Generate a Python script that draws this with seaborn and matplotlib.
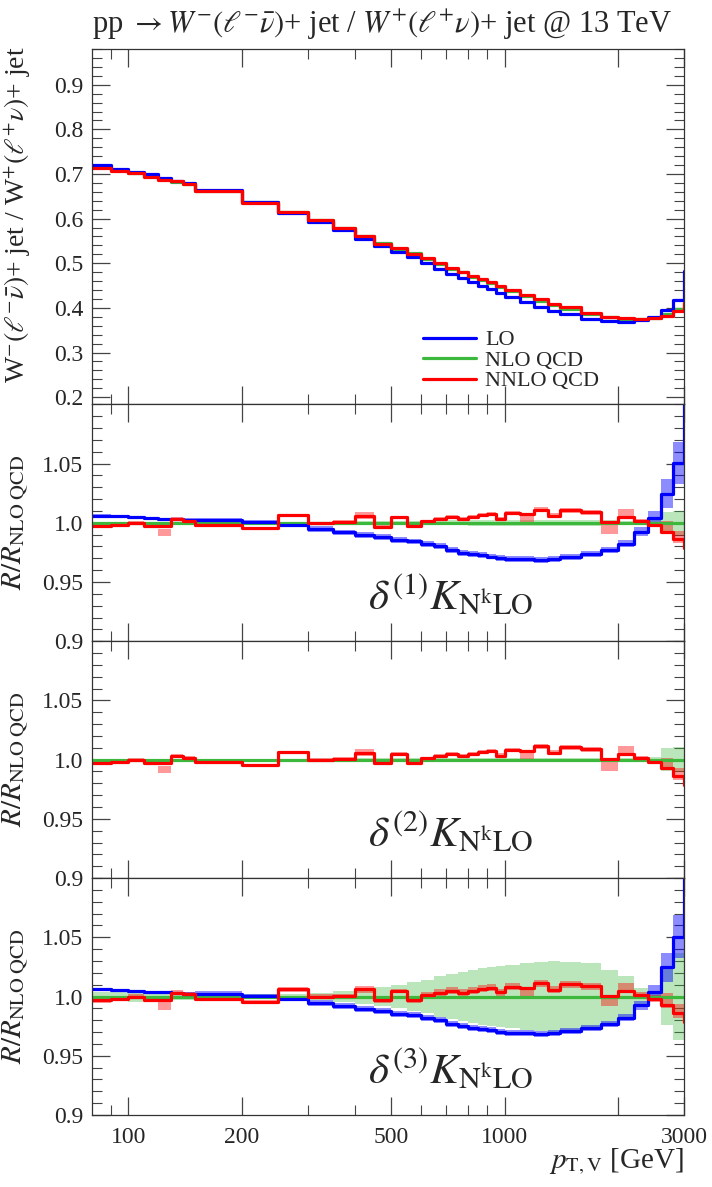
import numpy as np
import matplotlib
matplotlib.use("Agg")
import matplotlib.pyplot as plt
from matplotlib.lines import Line2D
import seaborn as sns

# bin edges in p_T,V [GeV]
edges = [80, 90, 100, 110, 120, 130, 140, 150, 200, 250, 300, 350, 400, 450, 500,
         550, 600, 650, 700, 750, 800, 850, 900, 950, 1000, 1100, 1200, 1300, 1400,
         1600, 1800, 2000, 2200, 2400, 2600, 2800, 3000, 3400]

# W-/W+ ratio, top panel
lo_top = [0.721, 0.712, 0.705, 0.699, 0.691, 0.684, 0.679, 0.664, 0.637, 0.613, 0.593,
          0.574, 0.555, 0.539, 0.526, 0.514, 0.501, 0.488, 0.477, 0.468, 0.458, 0.449,
          0.442, 0.434, 0.425, 0.413, 0.403, 0.394, 0.386, 0.376, 0.370, 0.369, 0.372,
          0.380, 0.395, 0.417, 0.482]
nlo_top = [0.717, 0.708, 0.702, 0.696, 0.689, 0.682, 0.677, 0.662, 0.637, 0.614, 0.596,
           0.579, 0.561, 0.546, 0.533, 0.522, 0.510, 0.498, 0.488, 0.480, 0.470, 0.462,
           0.455, 0.447, 0.438, 0.426, 0.416, 0.407, 0.398, 0.386, 0.379, 0.376, 0.375,
           0.378, 0.386, 0.397, 0.420]
nnlo_top = [0.714, 0.707, 0.702, 0.694, 0.687, 0.684, 0.678, 0.661, 0.636, 0.615, 0.596,
            0.579, 0.561, 0.544, 0.535, 0.520, 0.511, 0.500, 0.490, 0.481, 0.472, 0.465,
            0.458, 0.448, 0.441, 0.429, 0.421, 0.409, 0.402, 0.389, 0.379, 0.378, 0.375,
            0.377, 0.383, 0.392, 0.410]

# ratios to NLO QCD
lo_ratio = [1.0060, 1.0054, 1.0048, 1.0040, 1.0034, 1.0030, 1.0025, 1.0025, 1.0003, 0.9983,
            0.9946, 0.9918, 0.9898, 0.9880, 0.9855, 0.9842, 0.9822, 0.9800, 0.9771, 0.9748,
            0.9737, 0.9726, 0.9715, 0.9703, 0.9695, 0.9692, 0.9686, 0.9692, 0.9709, 0.9737,
            0.9771, 0.9822, 0.9926, 1.0040, 1.0246, 1.0506, 1.1500]
nlo_ratio = [1.0] * 37
nnlo_ratio = [0.9969, 0.9978, 1.0000, 0.9972, 0.9970, 1.0031, 1.0018, 0.9981, 0.9953, 1.0062,
              0.9998, 1.0005, 1.0060, 0.9968, 1.0046, 0.9969, 1.0011, 1.0031, 1.0048, 1.0031,
              1.0048, 1.0065, 1.0076, 1.0034, 1.0082, 1.0076, 1.0112, 1.0059, 1.0104, 1.0088,
              1.0003, 1.0048, 1.0011, 0.9983, 0.9926, 0.9861, 0.9785]

# band half-widths (and shifts of the NNLO band) for the three prescriptions
lo_band = [0.0010, 0.0010, 0.0010, 0.0010, 0.0010, 0.0012, 0.0015, 0.0018, 0.0020, 0.0022,
           0.0025, 0.0025, 0.0025, 0.0025, 0.0025, 0.0025, 0.0025, 0.0025, 0.0025, 0.0025,
           0.0025, 0.0025, 0.0025, 0.0025, 0.0025, 0.0025, 0.0025, 0.0025, 0.0025, 0.0025,
           0.0025, 0.0030, 0.0040, 0.0060, 0.0120, 0.0180, 0.0300]
nlo_band_d1 = [0.0008, 0.0008, 0.0008, 0.0008, 0.0008, 0.0008, 0.0008, 0.0008, 0.0008, 0.0010,
               0.0010, 0.0012, 0.0012, 0.0015, 0.0015, 0.0018, 0.0020, 0.0020, 0.0022, 0.0022,
               0.0025, 0.0025, 0.0025, 0.0025, 0.0025, 0.0025, 0.0025, 0.0025, 0.0025, 0.0025,
               0.0020, 0.0015, 0.0010, 0.0020, 0.0090, 0.0100, 0.0100]
nlo_band_d2 = [0.0006, 0.0006, 0.0006, 0.0006, 0.0006, 0.0006, 0.0006, 0.0006, 0.0006, 0.0008,
               0.0008, 0.0010, 0.0010, 0.0012, 0.0012, 0.0014, 0.0015, 0.0015, 0.0016, 0.0016,
               0.0018, 0.0018, 0.0018, 0.0018, 0.0018, 0.0018, 0.0018, 0.0018, 0.0018, 0.0018,
               0.0015, 0.0012, 0.0010, 0.0025, 0.0100, 0.0105, 0.0105]
nlo_band_d3 = [0.0040, 0.0040, 0.0050, 0.0050, 0.0040, 0.0030, 0.0030, 0.0020, 0.0020, 0.0020,
               0.0030, 0.0050, 0.0060, 0.0080, 0.0095, 0.0120, 0.0140, 0.0170, 0.0190, 0.0210,
               0.0220, 0.0240, 0.0250, 0.0260, 0.0270, 0.0280, 0.0290, 0.0300, 0.0290, 0.0280,
               0.0220, 0.0170, 0.0070, 0.0040, 0.0240, 0.0370, 0.0400]
nnlo_band_d12 = [0.0012, 0.0012, 0.0012, 0.0012, 0.0030, 0.0015, 0.0015, 0.0012, 0.0012, 0.0015,
                 0.0012, 0.0015, 0.0030, 0.0015, 0.0015, 0.0015, 0.0015, 0.0015, 0.0015, 0.0015,
                 0.0018, 0.0018, 0.0018, 0.0018, 0.0020, 0.0025, 0.0020, 0.0020, 0.0020, 0.0020,
                 0.0055, 0.0035, 0.0020, 0.0020, 0.0050, 0.0050, 0.0050]
nnlo_band_d3 = [0.0020, 0.0020, 0.0020, 0.0020, 0.0030, 0.0020, 0.0020, 0.0020, 0.0020, 0.0020,
                0.0020, 0.0020, 0.0030, 0.0020, 0.0020, 0.0020, 0.0030, 0.0030, 0.0030, 0.0030,
                0.0030, 0.0030, 0.0030, 0.0030, 0.0030, 0.0030, 0.0030, 0.0030, 0.0030, 0.0030,
                0.0040, 0.0035, 0.0030, 0.0030, 0.0060, 0.0060, 0.0060]
nnlo_shift = [0.0, 0.0, 0.0, 0.0, -0.0050, 0.0, 0.0, 0.0, 0.0, 0.0,
              0.0, 0.0, 0.0, 0.0, 0.0, 0.0, 0.0, 0.0, 0.0, 0.0,
              0.0, 0.0, 0.0, 0.0, 0.0, -0.0045, 0.0, 0.0, 0.0, 0.0,
              -0.0045, 0.0030, 0.0, 0.0, 0.0040, 0.0020, 0.0]

top_yticks = [0.2, 0.3, 0.4, 0.5, 0.6, 0.7, 0.8, 0.9]
ratio_yticks = [0.9, 0.95, 1.0, 1.05]
ratio_ylabels = ["0.9", "0.95", "1.0", "1.05"]
x_major = [100, 200, 500, 1000, 2000, 3000]
x_major_labels = ["100", "200", "500", "1000", "", "3000"]
x_minor = [90, 300, 400, 600, 700, 800, 900]

c_lo, c_nlo, c_nnlo = "#0000ff", "#3cb83c", "#ff0000"

sns.set_style("ticks")
plt.rcParams["font.family"] = ["Liberation Serif", "DejaVu Serif"]
plt.rcParams["mathtext.fontset"] = "stix"


def step(ax, vals, color):
    y = list(vals) + [vals[-1]]
    sns.lineplot(x=edges, y=y, drawstyle="steps-post", color=color, lw=2.3,
                 estimator=None, sort=False, ax=ax)


def band(ax, centre, half, color, alpha, shift=None):
    c = np.array(centre, dtype=float)
    if shift is not None:
        c = c + np.array(shift)
    h = np.array(half)
    lo = np.append(c - h, (c - h)[-1])
    hi = np.append(c + h, (c + h)[-1])
    ax.fill_between(edges, lo, hi, step="post", color=color, alpha=alpha, lw=0)


fig = plt.figure(figsize=(7.12, 11.87), dpi=100)
gs = fig.add_gridspec(4, 1, height_ratios=[1.5, 1, 1, 1], hspace=0,
                      left=0.129, right=0.961, top=0.9587, bottom=0.0607)
axes = [fig.add_subplot(gs[i]) for i in range(4)]

# top panel
ax = axes[0]
step(ax, nlo_top, c_nlo)
step(ax, lo_top, c_lo)
step(ax, nnlo_top, c_nnlo)
ax.set_ylim(0.184, 0.98)
ax.set_yticks(top_yticks)
ax.set_yticklabels([f"{v:.1f}" for v in top_yticks])
ax.set_ylabel(r"W$^{-}(\ell^{-}\bar{\nu})$+ jet / W$^{+}(\ell^{+}\nu)$+ jet", fontsize=20)
handles = [Line2D([], [], color=c, lw=2.3) for c in (c_lo, c_nlo, c_nnlo)]
ax.legend(handles, ["LO", "NLO QCD", "NNLO QCD"], loc="lower left",
          bbox_to_anchor=(0.525, -0.02), frameon=False, fontsize=16,
          handlelength=2.4, handletextpad=0.4, labelspacing=0.0)

# delta(1)
ax = axes[1]
band(ax, nlo_ratio, nlo_band_d1, c_nlo, 0.35)
band(ax, lo_ratio, lo_band, c_lo, 0.45)
band(ax, nnlo_ratio, nnlo_band_d12, c_nnlo, 0.4, nnlo_shift)
step(ax, nlo_ratio, c_nlo)
step(ax, lo_ratio, c_lo)
step(ax, nnlo_ratio, c_nnlo)

# delta(2)
ax = axes[2]
band(ax, nlo_ratio, nlo_band_d2, c_nlo, 0.35)
band(ax, nnlo_ratio, nnlo_band_d12, c_nnlo, 0.4, nnlo_shift)
step(ax, nlo_ratio, c_nlo)
step(ax, nnlo_ratio, c_nnlo)

# delta(3)
ax = axes[3]
band(ax, nlo_ratio, nlo_band_d3, c_nlo, 0.35)
band(ax, lo_ratio, lo_band, c_lo, 0.45)
band(ax, nnlo_ratio, nnlo_band_d3, c_nnlo, 0.4, nnlo_shift)
step(ax, nlo_ratio, c_nlo)
step(ax, lo_ratio, c_lo)
step(ax, nnlo_ratio, c_nnlo)

for i, ax in enumerate(axes[1:], start=1):
    ax.set_ylim(0.9, 1.1)
    ax.set_yticks(ratio_yticks)
    ax.set_yticklabels(ratio_ylabels)
    ax.set_ylabel(r"$R/R_{\mathrm{NLO\ QCD}}$", fontsize=21)
    ax.yaxis.set_label_coords(-0.103, 0.5)
    ax.text(0.605, 0.19, r"$\delta^{(%d)}K_{\mathrm{N^{k}LO}}$" % i, transform=ax.transAxes,
            ha="center", va="center", fontsize=31)

axes[0].yaxis.set_label_coords(-0.1, 0.535)

for i, ax in enumerate(axes):
    ax.set_xscale("log")
    ax.set_xlim(80, 3000)
    ax.set_xticks(x_major)
    ax.set_xticks(x_minor, minor=True)
    if i == 0:
        ax.yaxis.set_minor_locator(matplotlib.ticker.MultipleLocator(0.02))
    else:
        ax.yaxis.set_minor_locator(matplotlib.ticker.MultipleLocator(0.01))
    if i == 3:
        ax.set_xticklabels(x_major_labels)
    else:
        ax.set_xticklabels([])
    ax.xaxis.set_minor_formatter(matplotlib.ticker.NullFormatter())
    ax.tick_params(which="both", direction="in", top=True, right=True,
                   labelsize=17, color="#444444")
    ax.tick_params(which="major", length=13, width=0.9)
    ax.tick_params(which="minor", length=7, width=0.8)
    ax.tick_params(axis="x", pad=9)
    ax.tick_params(axis="y", pad=6)
    for s in ax.spines.values():
        s.set_color("#333333")
        s.set_linewidth(0.9)
    ax.set_xlabel("")

axes[3].set_xlabel(r"$p_{\mathrm{T,V}}$ [GeV]", fontsize=21, loc="right")
axes[3].xaxis.set_label_coords(1.0, -0.135)

fig.text(0.129, 0.979, r"pp $\rightarrow W^{-}(\ell^{-}\bar{\nu})$+ jet / $W^{+}(\ell^{+}\nu)$+ jet @ 13 TeV",
         fontsize=22, ha="left", va="center")

fig.savefig("out.png", dpi=100)
